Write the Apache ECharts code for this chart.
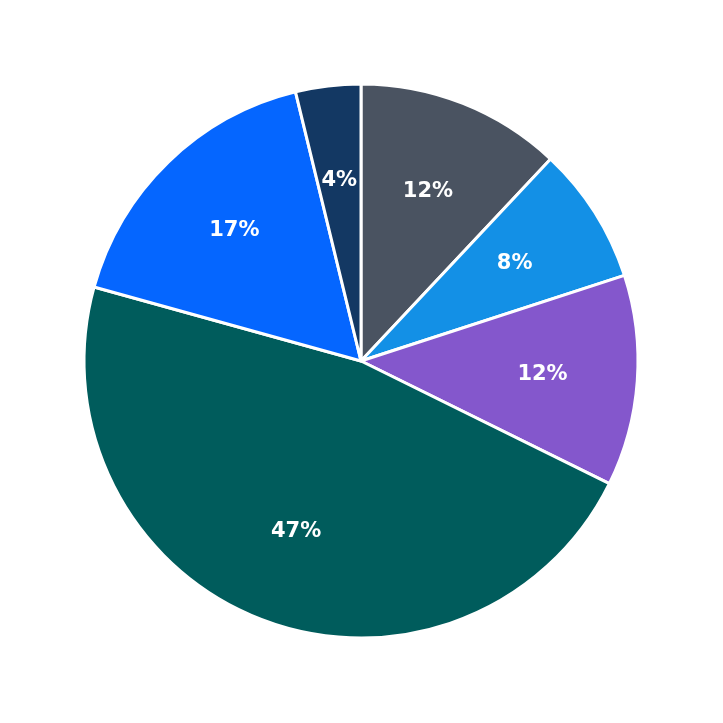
<!DOCTYPE html><html><head><meta charset="utf-8">
<script src="https://cdn.jsdelivr.net/npm/echarts@6/dist/echarts.min.js"></script>
<style>html,body{margin:0;background:#fff}#c{width:723px;height:723px}</style></head><body><div id="c"></div>
<script>
const categories=['A','B','C','D','E','F'];
const values=[12,8,12.3,47,16.9,3.8];
const colors=['#4a5361','#1390e6','#8457cc','#005c5c','#0566ff','#133863'];
const data=categories.map((n,i)=>({name:n,value:values[i],itemStyle:{color:colors[i]}}));
const chart=echarts.init(document.getElementById('c'));
chart.setOption({animation:false,series:[
{type:'pie',center:[361,361],radius:[0,277],startAngle:90,clockwise:true,data:data,
 itemStyle:{borderColor:'#fff',borderWidth:3},label:{show:false},labelLine:{show:false},silent:true},
{type:'pie',center:[361,361],radius:[0,358],startAngle:90,clockwise:true,
 data:data.map(d=>({name:d.name,value:d.value,itemStyle:{color:'rgba(0,0,0,0)'}})),
 itemStyle:{borderWidth:0},silent:true,labelLine:{show:false},
 label:{show:true,position:'inside',color:'#fff',fontSize:21,fontWeight:'bold',fontFamily:'DejaVu Sans',
 formatter:p=>Math.round(p.percent)+'%'}}
]});
</script></body></html>
